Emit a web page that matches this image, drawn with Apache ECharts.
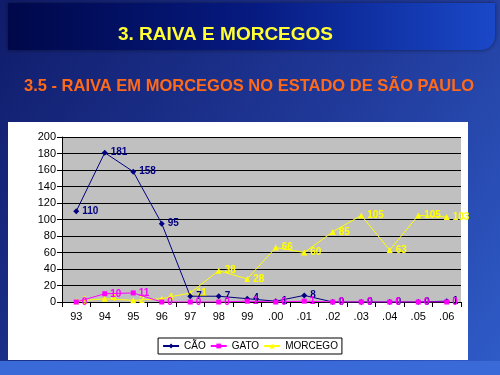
<!DOCTYPE html>
<html><head><meta charset="utf-8">
<script src="https://cdn.jsdelivr.net/npm/echarts@6/dist/echarts.min.js"></script>
<style>html,body{margin:0;padding:0;background:#1a2a80}#c{width:500px;height:375px}</style>
</head><body><div id="c"></div>
<script>
var years = ['93','94','95','96','97','98','99','.00','.01','.02','.03','.04','.05','.06'];
var cao = [110,181,158,95,7,7,4,1,8,0,0,0,0,1];
var gato = [0,10,11,0,0,0,1,0,1,0,0,0,0,0];
var morcego = [1,4,2,4,11,38,28,66,60,85,105,63,105,103];
var yTicks = [0,20,40,60,80,100,120,140,160,180,200];

var chart = echarts.init(document.getElementById('c'), null, {renderer:'canvas'});
function lbl(color){return {show:true,position:'right',distance:3,color:color,fontSize:10,fontWeight:'bold',fontFamily:'Arial'};}
chart.setOption({
  animation:false,
  graphic:[
    {type:'rect',z:-10,shape:{x:0,y:0,width:500,height:375},style:{fill:new echarts.graphic.LinearGradient(0,0,1,1,[{offset:0,color:'#101c6a'},{offset:0.5,color:'#1f3796'},{offset:1,color:'#2f5cc8'}])}},
    {type:'rect',z:-9,shape:{x:8,y:3,width:487,height:47,r:[0,0,14,0]},style:{fill:new echarts.graphic.LinearGradient(0,0,1,0,[{offset:0,color:'#00084a'},{offset:0.5,color:'#061a80'},{offset:1,color:'#1a48c8'}]),shadowBlur:4,shadowColor:'rgba(0,0,0,0.5)'}},
    {type:'rect',z:-8,shape:{x:8,y:122,width:460,height:238},style:{fill:'#ffffff'}},
    {type:'rect',z:-8,shape:{x:0,y:361,width:500,height:14},style:{fill:'#3a6ad8'}}
  ],
  title:[
    {text:'3. RAIVA E MORCEGOS',left:113,top:20,textStyle:{color:'#ffff33',fontSize:19,fontWeight:'bold',fontFamily:'Arial'}},
    {text:'3.5 - RAIVA EM MORCEGOS NO ESTADO DE SÃO PAULO',left:19,top:73,textStyle:{color:'#ff6a1a',fontSize:16.5,fontWeight:'bold',fontFamily:'Arial'}}
  ],
  legend:{
    bottom:21,left:'center',itemGap:4,itemWidth:16,itemHeight:6,
    backgroundColor:'#fff',borderColor:'#000',borderWidth:1,padding:[3,4],borderRadius:0,
    textStyle:{fontSize:10,fontFamily:'Arial',color:'#000'},
    data:['CÃO','GATO','MORCEGO']
  },
  grid:{left:62,right:39,top:137,bottom:73,backgroundColor:'#c0c0c0',show:true,borderWidth:0},
  xAxis:{type:'category',data:years,boundaryGap:true,
    axisLine:{lineStyle:{color:'#000'}},axisTick:{show:true,lineStyle:{color:'#000'}},
    axisLabel:{color:'#000',fontSize:11,fontFamily:'Arial',margin:9},splitLine:{show:false}},
  yAxis:{type:'value',min:0,max:200,interval:20,
    axisLine:{show:true,lineStyle:{color:'#000'}},axisTick:{show:true,lineStyle:{color:'#000'}},
    axisLabel:{color:'#000',fontSize:11,fontFamily:'Arial',margin:6},
    splitLine:{lineStyle:{color:'#000',width:1}}},
  series:[
    {name:'CÃO',type:'line',data:cao,symbol:'diamond',symbolSize:6,color:'#000080',lineStyle:{width:1,color:'#000080'},itemStyle:{color:'#000080'},label:lbl('#000080'),z:3},
    {name:'GATO',type:'line',data:gato,symbol:'rect',symbolSize:5,color:'#ff00ff',lineStyle:{width:1,color:'#ff00ff'},itemStyle:{color:'#ff00ff'},label:lbl('#ff00ff'),z:4},
    {name:'MORCEGO',type:'line',data:morcego,symbol:'triangle',symbolSize:6,color:'#ffff00',lineStyle:{width:1,color:'#ffff00'},itemStyle:{color:'#ffff00'},label:lbl('#ffff00'),z:2}
  ]
});
</script></body></html>
